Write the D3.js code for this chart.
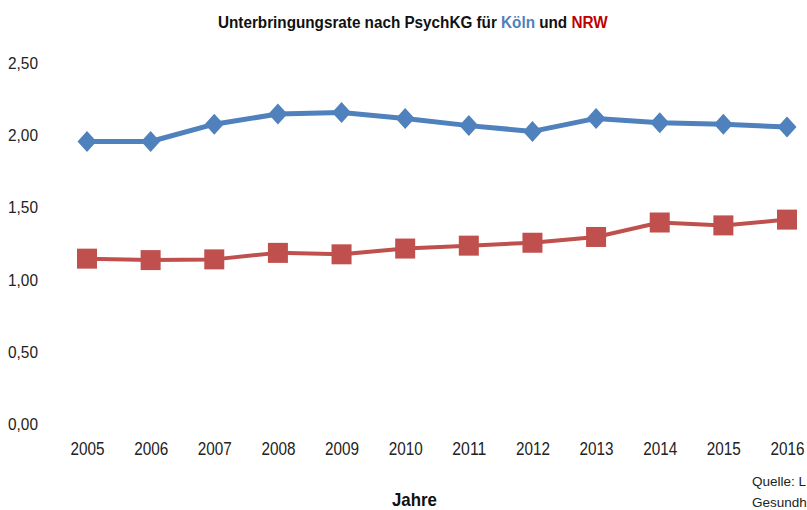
<!DOCTYPE html>
<html><head><meta charset="utf-8">
<script src="https://cdn.jsdelivr.net/npm/d3@7"></script>
<style>
html,body{margin:0;padding:0;background:#fff;overflow:hidden;}
svg{display:block;}
text{font-family:"Liberation Sans",Arial,sans-serif;}
</style></head>
<body>
<script>
const years = ["2005","2006","2007","2008","2009","2010","2011","2012","2013","2014","2015","2016"];
const koeln = [1.95,1.95,2.07,2.14,2.15,2.11,2.06,2.02,2.11,2.08,2.07,2.05];
const nrw = [1.14,1.13,1.135,1.18,1.17,1.21,1.23,1.25,1.29,1.39,1.37,1.41];
const yTicks = [0,0.5,1,1.5,2,2.5];

const W=807,H=510;
const svg=d3.select("body").append("svg").attr("width",W).attr("height",H);

const x=d3.scalePoint().domain(years).range([87,787]);
const y=d3.scaleLinear().domain([0,2.5]).range([423.5,62]);

const fmt=d=>d3.format(".2f")(d).replace(".",",");

// horizontally condense a text to a target width, around its anchor x
function fit(sel, width){
  sel.each(function(){
    const n=this, len=n.getComputedTextLength();
    const ax=+(n.getAttribute("x")||0);
    const s=width/len;
    n.setAttribute("transform",`translate(${ax},0) scale(${s},1) translate(${-ax},0)`);
  });
}

// y axis labels
const yAxis=d3.axisLeft(y).tickValues(yTicks).tickFormat(fmt).tickSize(0).tickPadding(0);
const ya=svg.append("g").attr("transform","translate(38,0)").call(yAxis);
ya.select(".domain").remove();
ya.selectAll("text").attr("font-size",17).attr("fill","#222").attr("dy","0.36em")
  .style("font-family",'"Liberation Sans",Arial,sans-serif').call(fit,30);

// x axis labels
const xAxis=d3.axisBottom(x).tickSize(0).tickPadding(0);
const xa=svg.append("g").call(xAxis);
xa.select(".domain").remove();
xa.selectAll("text").attr("font-size",19).attr("fill","#222").attr("dy",null).attr("y",455)
  .style("font-family",'"Liberation Sans",Arial,sans-serif').call(fit,34);

const line=d3.line().x((d,i)=>x(years[i])).y(d=>y(d));

// Köln
svg.append("path").datum(koeln).attr("d",line).attr("fill","none")
  .attr("stroke","#4f81bd").attr("stroke-width",5).attr("stroke-linejoin","round");
svg.append("g").selectAll("path").data(koeln).join("path")
  .attr("transform",(d,i)=>`translate(${x(years[i])},${y(d)})`)
  .attr("d","M0,-10.5L9.5,0L0,10.5L-9.5,0Z").attr("fill","#4f81bd");

// NRW
svg.append("path").datum(nrw).attr("d",line).attr("fill","none")
  .attr("stroke","#c0504d").attr("stroke-width",4).attr("stroke-linejoin","round");
svg.append("g").selectAll("rect").data(nrw).join("rect")
  .attr("x",(d,i)=>x(years[i])-10).attr("y",d=>y(d)-10)
  .attr("width",20).attr("height",20).attr("fill","#c0504d");

// title
const t=svg.append("text").attr("x",218).attr("y",28)
  .attr("font-size",17).attr("font-weight","bold").attr("fill","#111");
t.append("tspan").text("Unterbringungsrate nach PsychKG für ");
t.append("tspan").attr("fill","#4f81bd").text("Köln");
t.append("tspan").text(" und ");
t.append("tspan").attr("fill","#c00000").text("NRW");
t.call(fit,390);

// x title
svg.append("text").attr("x",392).attr("y",506)
  .attr("font-size",18).attr("font-weight","bold").attr("fill","#111")
  .text("Jahre").call(fit,45);

// source (cut at the right edge as in the reference)
svg.append("text").attr("x",752).attr("y",486).attr("font-size",13.5).attr("fill","#222")
  .text("Quelle: L");
svg.append("text").attr("x",752).attr("y",507).attr("font-size",13.5).attr("fill","#222")
  .text("Gesundh");
</script>
</body></html>
